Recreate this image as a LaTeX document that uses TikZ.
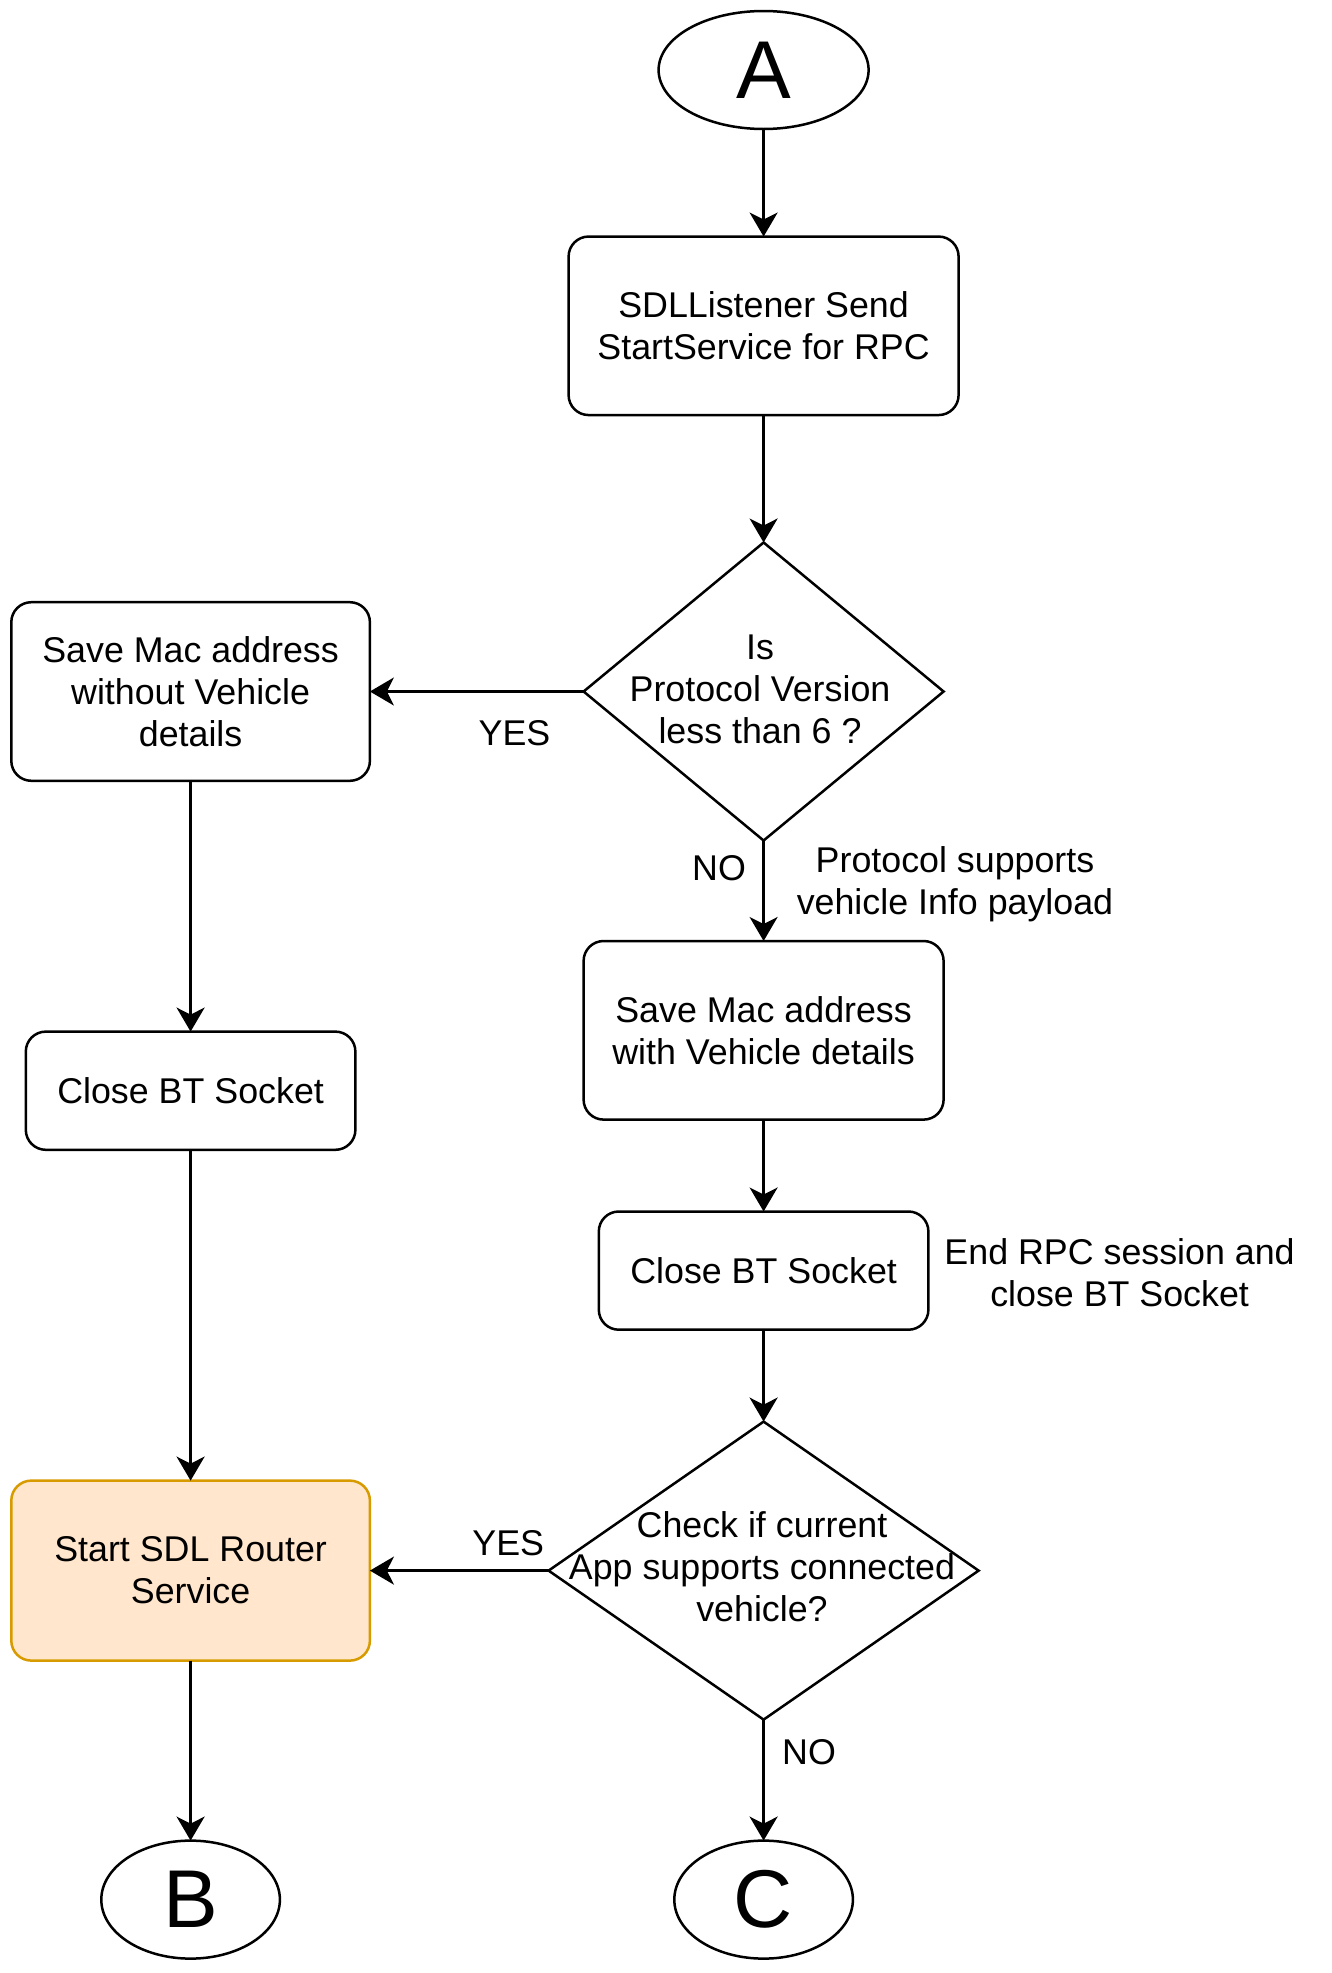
\documentclass[tikz,border=0pt]{standalone}
\usepackage{fontspec}
\setmainfont{Liberation Sans}
\usetikzlibrary{shapes.geometric,arrows.meta}
\definecolor{orfill}{HTML}{FFE6CC}
\definecolor{ordraw}{HTML}{D79B00}
\begin{document}
\begin{tikzpicture}[x=1pt,y=-1pt,
  every node/.style={font=\fontsize{35.8}{42}\selectfont, align=center, inner sep=0pt, outer sep=0pt},
  base/.style={draw=black, line width=2.5pt},
  procbox/.style={base, rectangle, rounded corners=20pt},
  term/.style={base, ellipse, font=\fontsize{82}{90}\selectfont},
  decision/.style={base, diamond},
  conn/.style={line width=2.5pt, -{Stealth[length=24pt,width=28pt,inset=7pt]}},
  lbl/.style={}
]
\useasboundingbox (0,0) rectangle (1331,1973);
\node[term, minimum width=210pt, minimum height=118pt] (A) at (763.6,70) {A};
\node[procbox, minimum width=390pt, minimum height=178.5pt] (send) at (763.6,325.8) {SDLListener Send\\StartService for RPC};
\node[decision, minimum width=360pt, minimum height=298pt] (d1) at (763.6,691.5) {};
\node (d1t) at (760,689) {Is\\Protocol Version\\less than 6 ?};
\node[procbox, minimum width=358.6pt, minimum height=178.6pt] (without) at (190.6,691.5) {Save Mac address\\without Vehicle\\details};
\node[procbox, minimum width=360pt, minimum height=178.6pt] (with) at (763.6,1030.3) {Save Mac address\\with Vehicle details};
\node[procbox, minimum width=329.6pt, minimum height=118.2pt] (closeL) at (190.6,1090.7) {Close BT Socket};
\node[procbox, minimum width=329.6pt, minimum height=118.2pt] (closeR) at (763.6,1270.6) {Close BT Socket};
\node[decision, minimum width=430pt, minimum height=298pt] (d2) at (763.6,1570.6) {};
\node (d2t) at (762,1567) {Check if current\\App supports connected\\vehicle?};
\node[procbox, draw=ordraw, fill=orfill, minimum width=358.6pt, minimum height=180pt] (start) at (190.6,1570.6) {Start SDL Router\\Service};
\node[term, minimum width=178.6pt, minimum height=118pt] (B) at (190.6,1899.6) {B};
\node[term, minimum width=178.6pt, minimum height=118pt] (C) at (763.6,1899.6) {C};

\node[lbl] (yes1) at (514.5,733) {YES};
\node[lbl] (no1) at (719,868) {NO};
\node[lbl] (psup) at (955,884) {Protocol supports\\vehicle Info payload};
\node[lbl] (endrpc) at (1119.6,1273) {End RPC session and\\close BT Socket};
\node[lbl] (yes2) at (508.2,1543) {YES};
\node[lbl] (no2) at (809,1752) {NO};

\draw[conn] (A) -- (send);
\draw[conn] (send) -- (d1.north);
\draw[conn] (d1.west) -- (without.east);
\draw[conn] (d1.south) -- (with.north);
\draw[conn] (without) -- (closeL);
\draw[conn] (with) -- (closeR);
\draw[conn] (closeL) -- (start);
\draw[conn] (closeR) -- (d2.north);
\draw[conn] (d2.west) -- (start.east);
\draw[conn] (start) -- (B);
\draw[conn] (d2.south) -- (C);
\end{tikzpicture}
\end{document}
